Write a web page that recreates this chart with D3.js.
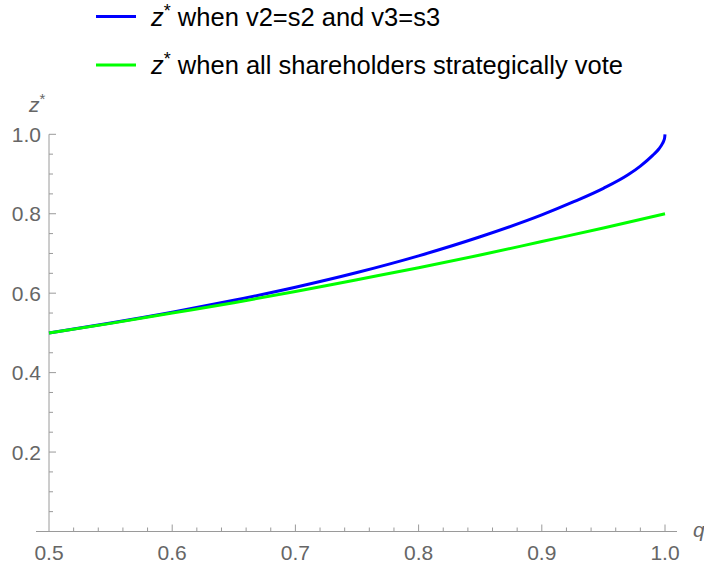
<!DOCTYPE html>
<html>
<head>
<meta charset="utf-8">
<script src="https://cdn.jsdelivr.net/npm/d3@7"></script>
<style>
  html, body { margin: 0; padding: 0; background: #fff; }
  svg { display: block; font-family: "Liberation Sans", Arial, sans-serif; }
</style>
</head>
<body>
<svg id="chart" width="704" height="563"></svg>
<script>
// Equilibrium threshold z* against q for the two voting scenarios
const qSincere = [0.5, 0.55, 0.6, 0.65, 0.7, 0.75, 0.8, 0.85, 0.9, 0.925, 0.95, 0.97, 0.98, 0.99, 0.995, 0.998, 0.999, 0.9997, 1.0];
const zSincere = [0.5, 0.525, 0.552, 0.582, 0.615, 0.652, 0.694, 0.742, 0.797, 0.829, 0.864, 0.898, 0.920, 0.947, 0.963, 0.977, 0.984, 0.991, 1.0];

const qStrategic = [0.5, 0.55, 0.6, 0.65, 0.7, 0.75, 0.8, 0.85, 0.9, 0.95, 1.0];
const zStrategic = [0.5, 0.524, 0.550, 0.576, 0.604, 0.634, 0.664, 0.696, 0.730, 0.764, 0.8];

const xTickValues = [0.5, 0.6, 0.7, 0.8, 0.9, 1.0];
const yTickValues = [0.2, 0.4, 0.6, 0.8, 1.0];

const legendLabels = [" when v2=s2 and v3=s3", " when all shareholders strategically vote"];
const seriesColors = ["#0000ff", "#00ff00"];

const svg = d3.select("#chart");

const x = d3.scaleLinear().domain([0.5, 1.0]).range([49, 665]);
const y = d3.scaleLinear().domain([0, 1.0]).range([531.5, 134.3]);

const axisColor = "#9a9a9a";
const labelColor = "#666666";
const tickFont = 21;

// minor ticks
const xMinor = d3.range(0.52, 1.0001, 0.02).filter(v => Math.abs(v * 10 - Math.round(v * 10)) > 1e-6);
const yMinor = d3.range(0.05, 1.0001, 0.05).filter(v => Math.abs(v * 5 - Math.round(v * 5)) > 1e-6);

const axes = svg.append("g");

// x axis (drawn at z = 0), extends a little beyond the plot range
axes.append("line")
  .attr("x1", x(0.5) - 13).attr("x2", x(1.0) + 12)
  .attr("y1", y(0)).attr("y2", y(0))
  .attr("stroke", axisColor).attr("stroke-width", 1);

axes.selectAll(".xmaj").data(xTickValues.filter(v => v > 0.5)).enter().append("line")
  .attr("x1", d => x(d)).attr("x2", d => x(d))
  .attr("y1", y(0)).attr("y2", y(0) - 7)
  .attr("stroke", axisColor);

axes.selectAll(".xmin").data(xMinor).enter().append("line")
  .attr("x1", d => x(d)).attr("x2", d => x(d))
  .attr("y1", y(0)).attr("y2", y(0) - 4)
  .attr("stroke", axisColor);

axes.selectAll(".xlab").data(xTickValues).enter().append("text")
  .attr("x", d => x(d)).attr("y", 560)
  .attr("text-anchor", "middle")
  .attr("fill", labelColor).attr("font-size", tickFont)
  .text(d => d3.format(".1f")(d));

// y axis at q = 0.5
axes.append("line")
  .attr("x1", x(0.5)).attr("x2", x(0.5))
  .attr("y1", y(0)).attr("y2", y(1.0))
  .attr("stroke", axisColor).attr("stroke-width", 1);

axes.selectAll(".ymaj").data(yTickValues).enter().append("line")
  .attr("x1", x(0.5)).attr("x2", x(0.5) + 7)
  .attr("y1", d => y(d)).attr("y2", d => y(d))
  .attr("stroke", axisColor);

axes.selectAll(".ymin").data(yMinor).enter().append("line")
  .attr("x1", x(0.5)).attr("x2", x(0.5) + 4)
  .attr("y1", d => y(d)).attr("y2", d => y(d))
  .attr("stroke", axisColor);

axes.selectAll(".ylab").data(yTickValues).enter().append("text")
  .attr("x", x(0.5) - 8).attr("y", d => y(d) + 7.5)
  .attr("text-anchor", "end")
  .attr("fill", labelColor).attr("font-size", tickFont)
  .text(d => d3.format(".1f")(d));

// axis titles
const zLabel = axes.append("text")
  .attr("x", 29).attr("y", 112)
  .attr("fill", labelColor).attr("font-size", tickFont);
zLabel.append("tspan").attr("font-style", "italic").text("z");
zLabel.append("tspan").attr("font-size", 15).attr("dy", -8).text("*");

axes.append("text")
  .attr("x", 693).attr("y", 537)
  .attr("fill", labelColor).attr("font-size", tickFont)
  .attr("font-style", "italic")
  .text("q");

// curves
const line = d3.line()
  .x(d => x(d[0]))
  .y(d => y(d[1]))
  .curve(d3.curveMonotoneX);

const sincere = qSincere.map((q, i) => [q, zSincere[i]]);
const strategic = qStrategic.map((q, i) => [q, zStrategic[i]]);

svg.append("path").datum(sincere)
  .attr("d", line)
  .attr("fill", "none").attr("stroke", seriesColors[0])
  .attr("stroke-width", 3).attr("stroke-linecap", "butt");

svg.append("path").datum(strategic)
  .attr("d", line)
  .attr("fill", "none").attr("stroke", seriesColors[1])
  .attr("stroke-width", 3).attr("stroke-linecap", "butt");

// legend
const legend = svg.append("g");
const rowY = [16.5, 65];
legendLabels.forEach((label, i) => {
  legend.append("line")
    .attr("x1", 96).attr("x2", 136)
    .attr("y1", rowY[i]).attr("y2", rowY[i])
    .attr("stroke", seriesColors[i]).attr("stroke-width", 3);
  const t = legend.append("text")
    .attr("x", 151).attr("y", rowY[i] + 9)
    .attr("fill", "#000").attr("font-size", 25.5);
  t.append("tspan").attr("font-style", "italic").text("z");
  t.append("tspan").attr("font-size", 18).attr("dy", -9).text("*");
  t.append("tspan").attr("dy", 9).text(label);
});
</script>
</body>
</html>
